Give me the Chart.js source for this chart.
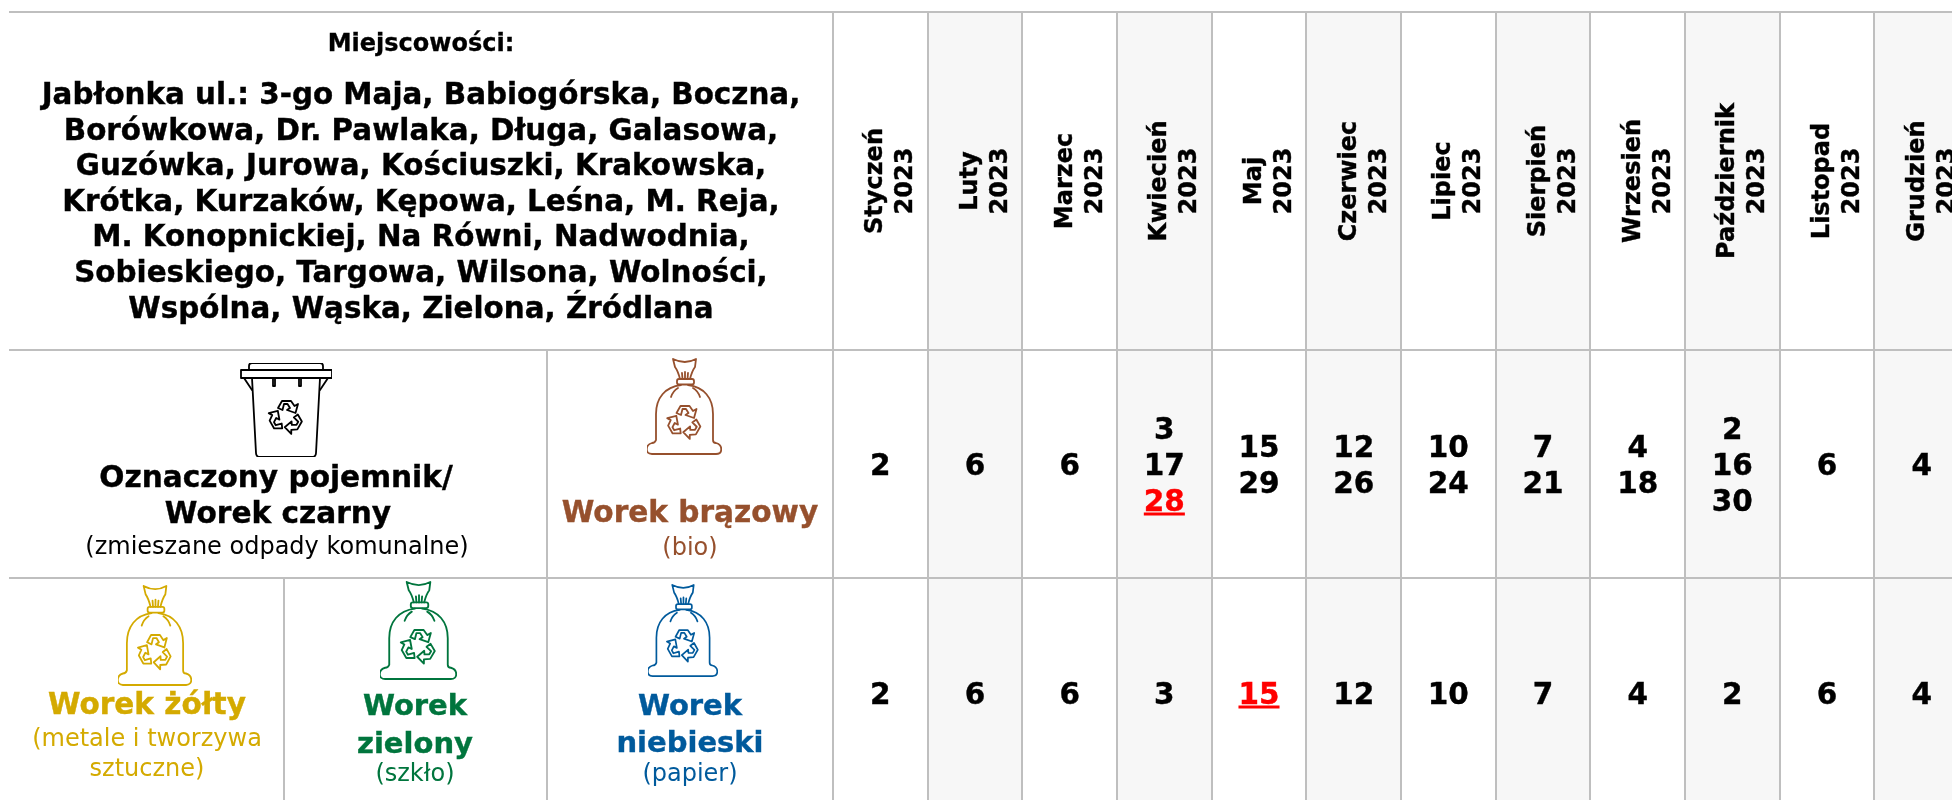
<!DOCTYPE html>
<html lang="pl">
<head>
<meta charset="utf-8">
<title>Harmonogram 2023</title>
<script src="https://cdn.jsdelivr.net/npm/chart.js@4"></script>
<style>
  html, body { margin: 0; width: 1952px; height: 800px; overflow: hidden; background: #fff; }
  body { position: relative; font-family: "DejaVu Sans", sans-serif; color: #000; }
  canvas { position: absolute; left: 0; top: 0; }
  .line { position: absolute; background: #bfbfbf; }
  .t { position: absolute; transform: translate(-50%, -50%); white-space: nowrap; line-height: 1; text-align: center; }
  .b { font-weight: bold; font-size: 29px; -webkit-text-stroke: 0.4px currentColor; }
  .r { font-size: 24px; }
  .icon { position: absolute; fill: none; stroke: currentColor; stroke-width: 1.8; stroke-linejoin: round; stroke-linecap: round; }
  .brown { color: #96502d; }
  .yellow { color: #d4aa00; }
  .green { color: #00753d; }
  .blue { color: #005a9c; }
</style>
</head>
<body>
<canvas id="scheduleChart" width="1969" height="800"></canvas>

<svg width="0" height="0" style="position:absolute">
  <defs>
    <g id="arrow">
      <path d="M-8,-9 L-4,-16 L5,-16 L8.5,-11 L12,-13 L9.5,-4 L1,-7 L4,-9 L1.5,-13 L-2,-13 L-3.5,-7 Z"/>
    </g>
    <g id="recycle">
      <use href="#arrow"/>
      <use href="#arrow" transform="rotate(120)"/>
      <use href="#arrow" transform="rotate(240)"/>
    </g>
    <symbol id="bag" viewBox="0 0 75 97" preserveAspectRatio="none" overflow="visible">
      <path d="M26,1 Q38,7 49,1 L48,9 Q45,13 43,21 M26,1 L28,9 Q31,13 33,21 M35,15 L35.5,21 M38,14 L38,21 M41,15 L40.5,21"/>
      <rect x="30" y="21" width="17" height="5.5" rx="2"/>
      <path d="M34,27 C18,29 9,40 9,56 L9,82 Q8,85 5,85 C-2,87 -2,96 5,96 L69,96 C76,96 76,87 69,85 Q66,85 66,82 L66,56 C66,40 57,29 41,27"/>
      <path d="M24,39 Q26,33 31,30 M53,39 Q51,33 46,30"/>
      <use href="#recycle" transform="translate(37.5,64)"/>
    </symbol>
    <symbol id="bin" viewBox="0 0 92 94" overflow="visible">
      <path d="M9,7 L9,3 Q9,0 12,0 L80,0 Q83,0 83,3 L83,7"/>
      <rect x="1" y="7" width="91" height="8"/>
      <path d="M12,15 L16,90 Q16,94 20,94 L72,94 Q76,94 76,90 L80,15"/>
      <path d="M4,15 L12,27 M88,15 L80,27 M33,15 L33,23 L35,23 L35,15 M59,15 L59,23 L61,23 L61,15"/>
      <use href="#recycle" transform="translate(46,54)"/>
    </symbol>
  </defs>
</svg>

<!-- left side of the table: the canvas only covers the month columns -->
<div class="line" style="left:9px;top:11px;width:824px;height:2px"></div>
<div class="line" style="left:9px;top:349px;width:824px;height:2px"></div>
<div class="line" style="left:9px;top:577px;width:824px;height:2px"></div>
<div class="line" style="left:546px;top:350px;width:2px;height:450px"></div>
<div class="line" style="left:283px;top:578px;width:2px;height:222px"></div>

<div class="t" style="left:421px;top:43px;font-weight:bold;font-size:24px;-webkit-text-stroke:0.3px #000">Miejscowości:</div>
<div class="t" style="left:421px;top:202px;font-weight:bold;font-size:29.4px;line-height:35.6px;-webkit-text-stroke:0.4px #000">
  Jabłonka ul.: 3-go Maja, Babiogórska, Boczna,<br>
  Borówkowa, Dr. Pawlaka, Długa, Galasowa,<br>
  Guzówka, Jurowa, Kościuszki, Krakowska,<br>
  Krótka, Kurzaków, Kępowa, Leśna, M. Reja,<br>
  M. Konopnickiej, Na Równi, Nadwodnia,<br>
  Sobieskiego, Targowa, Wilsona, Wolności,<br>
  Wspólna, Wąska, Zielona, Źródlana
</div>

<svg class="icon" style="left:240px;top:363px" width="92" height="94"><use href="#bin"/></svg>
<div class="t b" style="left:276px;top:478px;font-size:29.6px">Oznaczony pojemnik/</div>
<div class="t b" style="left:278px;top:514px;font-size:29.6px">Worek czarny</div>
<div class="t r" style="left:277px;top:546px">(zmieszane odpady komunalne)</div>

<svg class="icon brown" style="left:647px;top:358px" width="75" height="97"><use href="#bag"/></svg>
<div class="t b brown" style="left:690px;top:513px;font-size:29.6px">Worek brązowy</div>
<div class="t r brown" style="left:690px;top:547px">(bio)</div>

<svg class="icon yellow" style="left:118px;top:585px" width="74" height="101"><use href="#bag"/></svg>
<div class="t b yellow" style="left:147px;top:705px;font-size:29.5px">Worek żółty</div>
<div class="t r yellow" style="left:147px;top:738px">(metale i tworzywa</div>
<div class="t r yellow" style="left:147px;top:768px">sztuczne)</div>

<svg class="icon green" style="left:380px;top:581px" width="77" height="99"><use href="#bag"/></svg>
<div class="t b green" style="left:415px;top:705px">Worek</div>
<div class="t b green" style="left:415px;top:743px">zielony</div>
<div class="t r green" style="left:415px;top:773px">(szkło)</div>

<svg class="icon blue" style="left:648px;top:584px" width="70" height="93"><use href="#bag"/></svg>
<div class="t b blue" style="left:690px;top:705px">Worek</div>
<div class="t b blue" style="left:690px;top:742px">niebieski</div>
<div class="t r blue" style="left:690px;top:773px">(papier)</div>

<script>
  // Months and pickup dates
  const months = ["Styczeń", "Luty", "Marzec", "Kwiecień", "Maj", "Czerwiec", "Lipiec", "Sierpień", "Wrzesień", "Październik", "Listopad", "Grudzień"];
  const year = "2023";
  const mixedDates = [[2], [6], [6], [3, 17, 28], [15, 29], [12, 26], [10, 24], [7, 21], [4, 18], [2, 16, 30], [6], [4]];
  const segregatedDates = [[2], [6], [6], [3], [15], [12], [10], [7], [4], [2], [6], [4]];
  // Moved dates are printed red and underlined
  const mixedMoved = [null, null, null, 28, null, null, null, null, null, null, null, null];
  const segregatedMoved = [null, null, null, null, 15, null, null, null, null, null, null, null];

  // Table layout, y axis counts from the top line of the table
  const rowLines = [0, 338, 566];
  const tableBottom = 788;
  const headerMiddle = 169;
  const mixedMiddle = 452;
  const segregatedMiddle = 681;
  const lineStep = 36;

  const datePoints = (dates, moved, middle) =>
    dates.flatMap((list, m) =>
      list.map((day, i) => ({
        x: months[m],
        y: middle + (i - (list.length - 1) / 2) * lineStep,
        day: day,
        moved: day === moved[m],
      }))
    );

  // Draw month headers and dates as text on the scales
  const tableText = {
    id: "tableText",
    afterDatasetsDraw(chart) {
      const ctx = chart.ctx;
      const x = chart.scales.x;
      const y = chart.scales.y;
      ctx.save();
      ctx.fillStyle = "#000";
      ctx.strokeStyle = "#000";
      ctx.lineWidth = 0.4;
      ctx.textAlign = "center";
      ctx.textBaseline = "alphabetic";
      ctx.font = 'bold 24px "DejaVu Sans"';
      months.forEach((month, i) => {
        ctx.save();
        ctx.translate(x.getPixelForValue(i), y.getPixelForValue(headerMiddle));
        ctx.rotate(-Math.PI / 2);
        ctx.fillText(month, 0, 2);
        ctx.strokeText(month, 0, 2);
        ctx.fillText(year, 0, 32);
        ctx.strokeText(year, 0, 32);
        ctx.restore();
      });

      ctx.font = 'bold 29.5px "DejaVu Sans"';
      chart.getDatasetMeta(1).data.forEach((el, i) => {
        const point = chart.data.datasets[1].data[i];
        const text = String(point.day);
        const baseline = el.y + 10.5;
        ctx.fillStyle = point.moved ? "#ff0000" : "#000";
        ctx.strokeStyle = ctx.fillStyle;
        ctx.fillText(text, el.x, baseline);
        ctx.strokeText(text, el.x, baseline);
        if (point.moved) {
          const w = ctx.measureText(text).width;
          ctx.fillRect(el.x - w / 2, baseline + 2, w, 3);
        }
      });
      ctx.restore();
    },
  };

  new Chart(document.getElementById("scheduleChart"), {
    data: {
      labels: months,
      datasets: [
        {
          type: "bar",
          data: months.map((m, i) => (i % 2 ? [0, tableBottom] : null)),
          backgroundColor: "#f7f7f7",
          barPercentage: 1,
          categoryPercentage: 1,
        },
        {
          type: "line",
          data: datePoints(mixedDates, mixedMoved, mixedMiddle).concat(datePoints(segregatedDates, segregatedMoved, segregatedMiddle)),
          showLine: false,
          pointRadius: 0,
        },
      ],
    },
    options: {
      responsive: false,
      animation: false,
      layout: { padding: { left: 833, top: 12 } },
      plugins: { legend: { display: false }, tooltip: { enabled: false } },
      scales: {
        x: {
          type: "category",
          offset: true,
          ticks: { display: false },
          border: { display: false },
          grid: { offset: true, color: "#bfbfbf", lineWidth: 2, drawTicks: false, z: 1 },
        },
        y: {
          type: "linear",
          reverse: true,
          min: 0,
          max: tableBottom,
          afterBuildTicks: (axis) => {
            axis.ticks = rowLines.map((value) => ({ value }));
          },
          ticks: { display: false },
          border: { display: false },
          grid: { color: "#bfbfbf", lineWidth: 2, drawTicks: false, z: 1 },
        },
      },
    },
    plugins: [tableText],
  });
</script>
</body>
</html>
